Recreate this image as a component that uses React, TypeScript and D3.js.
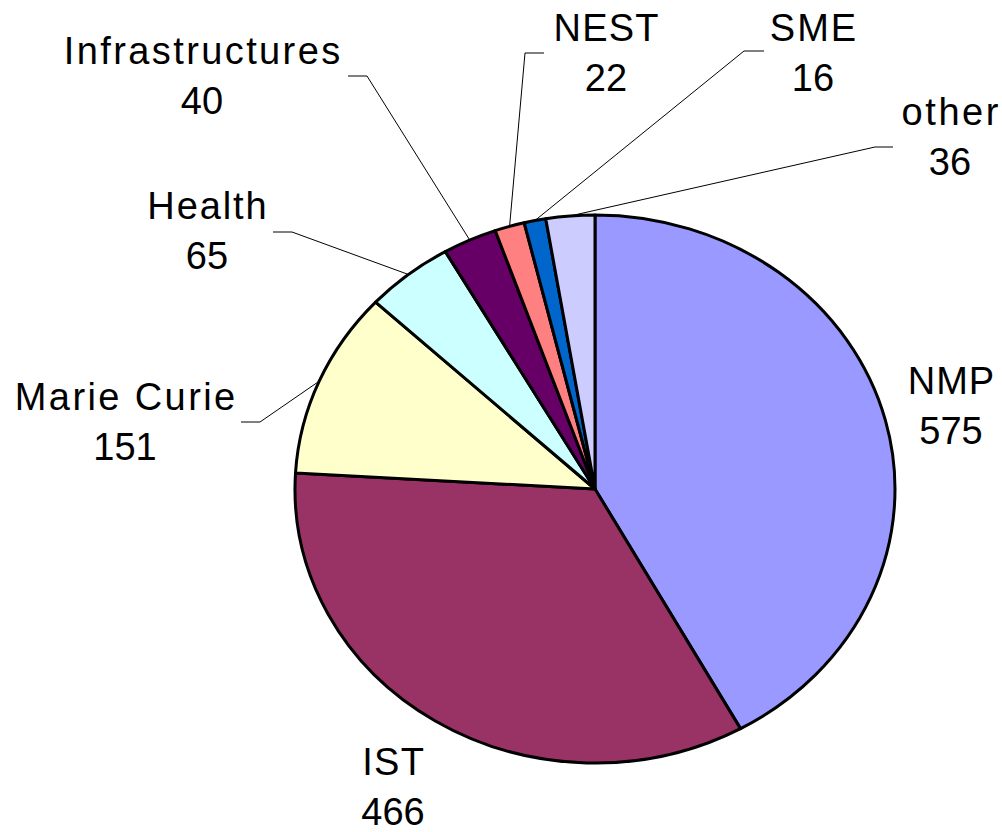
import React from "react";
import { pie, arc } from "d3";

const categories = ["NMP", "IST", "Marie Curie", "Health", "Infrastructures", "NEST", "SME", "other"];
const values = [575, 466, 151, 65, 40, 22, 16, 36];
const colors = ["#9999FF", "#993366", "#FFFFCC", "#CCFFFF", "#660066", "#FF8080", "#0066CC", "#CCCCFF"];

// label placement: centre x, first baseline, letter spacing, leader elbow (null = no leader)
const labelLayout = [
  { x: 951, y: 394, ls: 1, elbow: null },
  { x: 393, y: 775, ls: 1.3, elbow: null },
  { x: 125, y: 410, ls: 2.4, elbow: [260, 422, -19] },
  { x: 207, y: 219, ls: 1.9, elbow: [292, 232, -19] },
  { x: 202, y: 64, ls: 2.4, elbow: [367, 76, -19] },
  { x: 606, y: 41, ls: 1.2, elbow: [525, 53, 19] },
  { x: 813, y: 41, ls: 2, elbow: [744, 51, 20] },
  { x: 950, y: 125, ls: 2.6, elbow: [875, 147, 18] },
];

function App() {
  const width = 1002;
  const height = 832;
  const cx = 595;
  const cy = 489;
  const rx = 300;
  const ry = 274;
  const k = ry / rx;

  const slices = pie<number>().sort(null).value((d) => d)(values);
  const arcGen = arc<any>().innerRadius(0).outerRadius(rx);
  const edge = arc<any>().innerRadius(rx).outerRadius(rx);

  return (
    <svg
      width={width}
      height={height}
      style={{ position: "absolute", left: 0, top: 0, background: "#fff" }}
      fontFamily="'Liberation Sans', Arial, sans-serif"
    >
      <g transform={`translate(${cx},${cy}) scale(1,${k})`}>
        {slices.map((s, i) => (
          <path
            key={categories[i]}
            d={arcGen(s) as string}
            fill={colors[i]}
            stroke="#000"
            strokeWidth={3}
            strokeLinejoin="round"
            vectorEffect="non-scaling-stroke"
          />
        ))}
      </g>
      {/* leader lines */}
      {slices.map((s, i) => {
        const e = labelLayout[i].elbow;
        if (!e) return null;
        const [px, py] = edge.centroid(s);
        const x0 = cx + px;
        const y0 = cy + py * k;
        return (
          <polyline
            key={"l" + i}
            points={`${x0},${y0} ${e[0]},${e[1]} ${e[0] + e[2]},${e[1]}`}
            fill="none"
            stroke="#000"
            strokeWidth={1}
          />
        );
      })}
      {/* labels */}
      {categories.map((c, i) => {
        const l = labelLayout[i];
        return (
          <g key={"t" + c} textAnchor="middle" fontSize={38} fill="#000">
            <text x={l.x} y={l.y} dx={l.ls / 2} letterSpacing={l.ls}>
              {c}
            </text>
            <text x={l.x} y={l.y + 50}>
              {values[i]}
            </text>
          </g>
        );
      })}
    </svg>
  );
}

export default App;
